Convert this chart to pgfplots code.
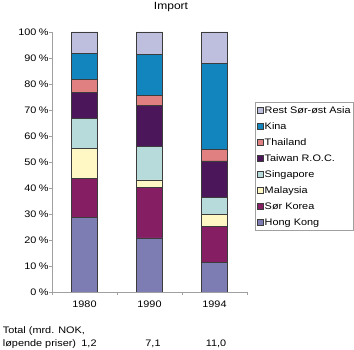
\documentclass[border=0pt]{standalone}
\usepackage{fontspec}
\setmainfont{Liberation Sans}[FakeStretch=1.15]
\usepackage{pgfplots}
\pgfplotsset{compat=1.18}
\definecolor{cHK}{RGB}{125,125,180}
\definecolor{cSK}{RGB}{133,30,98}
\definecolor{cMY}{RGB}{255,248,196}
\definecolor{cSG}{RGB}{183,218,218}
\definecolor{cTW}{RGB}{75,22,90}
\definecolor{cTH}{RGB}{225,128,128}
\definecolor{cKI}{RGB}{18,132,190}
\definecolor{cRE}{RGB}{190,190,222}
\definecolor{edge}{RGB}{60,60,60}
\definecolor{axgray}{RGB}{160,160,160}
\newcommand{\ff}{\fontsize{9.5}{11.4}\selectfont}
\begin{document}
\ff
\begin{tikzpicture}
\useasboundingbox (0,0) rectangle (354bp,350bp);
\begin{axis}[
  at={(52bp,58bp)}, anchor=south west,
  scale only axis, width=195bp, height=260bp,
  ybar stacked, bar width=26bp,
  xmin=-0.5, xmax=2.5, ymin=0, ymax=100,
  axis x line*=bottom, axis y line*=left,
  axis line style={draw=axgray, line width=0.6pt},
  tick align=outside, major tick length=3bp,
  tick style={draw=axgray, line width=0.6pt},
  /pgf/number format/assume math mode=true,
  ytick={0,10,...,100},
  yticklabel={\pgfmathprintnumber{\tick}\hspace{2.5bp}\%},
  yticklabel style={font=\ff, xshift=3bp},
  xtick={-0.5,0.5,1.5,2.5}, xticklabels={},
  extra x ticks={0,1,2},
  extra x tick labels={1980,1990,1994},
  extra x tick style={tick style={draw=none}, xticklabel style={font=\ff, yshift=-2.5bp}},
  every axis plot/.append style={draw=edge, line width=0.8pt},
  legend image code/.code={\draw[#1, line width=0.5pt] (0bp,-3bp) rectangle (6bp,3bp);},
  reverse legend,
  legend cell align=left,
  legend style={at={(1.041,0.7308)}, anchor=north west, draw=axgray, line width=0.5pt,
    font=\ff, inner sep=2bp, row sep=4bp,
    nodes={inner sep=1bp, text height=8bp, text depth=2bp}},
]
\addplot[fill=cHK] coordinates {(0,28.6) (1,20.8) (2,11.4)};
\addlegendentry{Hong Kong}
\addplot[fill=cSK] coordinates {(0,15.0) (1,19.4) (2,13.8)};
\addlegendentry{Sør Korea}
\addplot[fill=cMY] coordinates {(0,11.5) (1,2.9) (2,4.6)};
\addlegendentry{Malaysia}
\addplot[fill=cSG] coordinates {(0,11.7) (1,12.9) (2,6.6)};
\addlegendentry{Singapore}
\addplot[fill=cTW] coordinates {(0,10.1) (1,15.6) (2,14.0)};
\addlegendentry{Taiwan R.O.C.}
\addplot[fill=cTH] coordinates {(0,4.9) (1,4.0) (2,4.3)};
\addlegendentry{Thailand}
\addplot[fill=cKI] coordinates {(0,10.0) (1,15.7) (2,33.1)};
\addlegendentry{Kina}
\addplot[fill=cRE] coordinates {(0,8.2) (1,8.7) (2,12.2)};
\addlegendentry{Rest Sør-øst Asia}
\end{axis}
\node[anchor=base, inner sep=0pt, font=\fontsize{10.5}{12}\selectfont] at (171bp,340.5bp) {Import};
\node[anchor=base west, inner sep=0pt, font=\ff] at (2.7bp,17bp) {Total (mrd. NOK,};
\node[anchor=base west, inner sep=0pt, font=\ff] at (2.7bp,4bp) {løpende priser)};
\node[anchor=base, inner sep=0pt, font=\ff] at (89bp,4bp) {1,2};
\node[anchor=base, inner sep=0pt, font=\ff] at (153bp,4bp) {7,1};
\node[anchor=base, inner sep=0pt, font=\ff] at (216bp,4bp) {11,0};
\end{tikzpicture}
\end{document}
